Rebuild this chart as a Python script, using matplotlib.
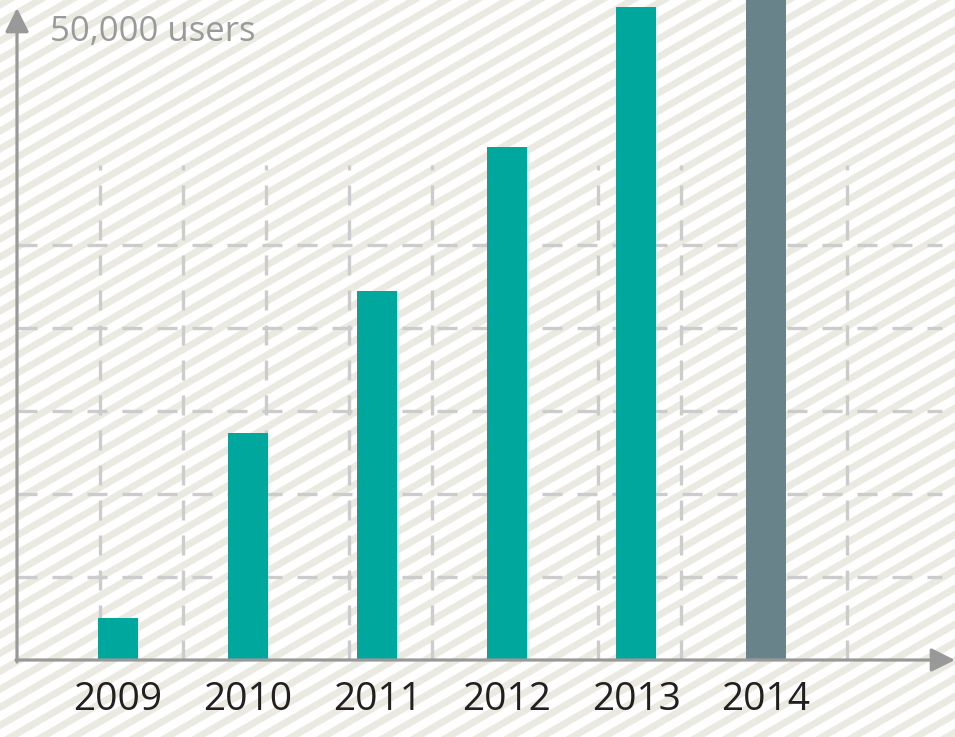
import numpy as np
import matplotlib
matplotlib.use("Agg")
from matplotlib import pyplot as plt


# %% --------------- DATA                                        ---------------------------------------------------- #
years = ["2009", "2010", "2011", "2012", "2013", "2014"]
users = [3200, 17100, 27800, 38600, 49200, 53000]      # 2014 runs off the top of the chart
bar_colors = ["#00a79d", "#00a79d", "#00a79d", "#00a79d", "#00a79d", "#68838a"]
axis_label = "50,000 users"


# %% --------------- LAYOUT CONSTANTS                            ---------------------------------------------------- #
W, H = 955, 737
X0_PX, SLOT_PX = 118, 129.6        # centre of first bar and distance between bars (pixels)
BASE_PX, STEP_PX = 660, 83         # baseline and grid spacing (pixels)
STEP_USERS = 6250                  # users per grid step

plt.rcParams["lines.scale_dashes"] = False


def px_x(p):
    return (p - X0_PX) / SLOT_PX


def px_y(p):
    return (BASE_PX - p) / STEP_PX * STEP_USERS


# %% --------------- FIGURE + STRIPED BACKGROUND                 ---------------------------------------------------- #
fig = plt.figure(figsize=(W / 100, H / 100), dpi=100)

ang = np.deg2rad(30)
period, stripe = 15.6, 7.0
yy, xx = np.mgrid[0:H, 0:W]
t = (xx * np.sin(ang) + yy * np.cos(ang)) % period
cov = np.maximum(np.clip(np.minimum(t + 0.5, stripe + 0.5 - t), 0, 1),
                 np.clip(np.minimum(t - period + 0.5, stripe + 0.5 - (t - period)), 0, 1))
white = np.array([1.0, 1.0, 1.0])
beige = np.array([235, 234, 226]) / 255
bg = white[None, None, :] * (1 - cov[..., None]) + beige[None, None, :] * cov[..., None]
fig.figimage(bg, zorder=-1)

ax = fig.add_axes([0, 0, 1, 1])
ax.patch.set_visible(False)
ax.set_xlim(px_x(0), px_x(W))
ax.set_ylim(px_y(H), px_y(0))
ax.axis("off")


# %% --------------- GRID                                        ---------------------------------------------------- #
grid_kw = dict(color="#cccccc", lw=2.4, zorder=1, linestyle=(0, (14.4, 10.8)),
               solid_capstyle="butt", dash_capstyle="butt")
for k in range(1, 6):
    ax.plot([px_x(17), px_x(942)], [k * STEP_USERS] * 2, **grid_kw)
for k in range(10):
    ax.plot([px_x(100 + k * STEP_PX)] * 2, [0, px_y(165)], **grid_kw)


# %% --------------- BARS                                        ---------------------------------------------------- #
ax.bar(range(len(years)), users, width=40 / SLOT_PX, color=bar_colors, zorder=3)


# %% --------------- AXES ARROWS                                 ---------------------------------------------------- #
arrow_kw = dict(arrowstyle="-|>,head_length=1.45,head_width=0.72", color="#999999", lw=2.3,
                shrinkA=0, shrinkB=0)
ax.annotate("", xy=(px_x(17), px_y(8)), xytext=(px_x(17), px_y(662)), arrowprops=arrow_kw, zorder=4)
ax.annotate("", xy=(px_x(955), px_y(660)), xytext=(px_x(16), px_y(660)), arrowprops=arrow_kw, zorder=4)


# %% --------------- TEXT                                        ---------------------------------------------------- #
for i, year in enumerate(years):
    ax.text(i, px_y(710), year, ha="center", va="baseline", fontsize=28,
            family="Open Sans", color="#231f20")

ax.text(px_x(50), px_y(41), axis_label, ha="left", va="baseline", fontsize=25,
        family="Open Sans", color="#9a9a9a")

fig.savefig("out.png", dpi=100)
